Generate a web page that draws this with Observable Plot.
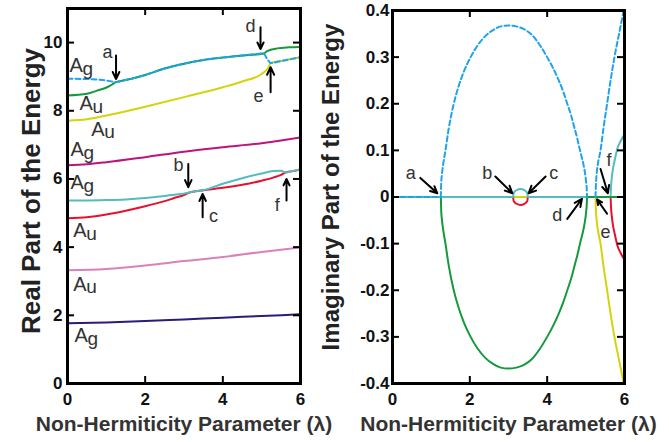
<!DOCTYPE html>
<html><head><meta charset="utf-8">
<script src="https://cdn.jsdelivr.net/npm/d3@7"></script>
<script src="https://cdn.jsdelivr.net/npm/@observablehq/plot@0.6"></script>
<style>
body{margin:0;background:#fff;}
#wrap{display:flex;width:669px;height:442px;overflow:hidden;background:#fff;}
#wrap svg{overflow:visible;}
</style></head><body><div id="wrap"></div>
<script>
// ---------- Left panel: real parts ----------
const lamPurple=[0,1,2,3,4,5,6];
const rePurple=[1.77,1.79,1.83,1.88,1.93,1.98,2.03];
const lamPink=[0,1,2,3,4,5,6];
const rePink=[3.32,3.36,3.46,3.59,3.71,3.86,3.99];
const lamMagenta=[0,0.5,1,2,3,4,5,5.5,6];
const reMagenta=[6.4,6.43,6.49,6.64,6.8,6.93,7.05,7.13,7.22];
const lamRed=[0,0.5,1,1.5,2,2.5,2.75,3,3.12,3.3,3.5,4,4.5,5,5.3,5.5,5.61,5.8,6];
const reRed=[4.85,4.88,4.96,5.07,5.2,5.35,5.44,5.53,5.59,5.64,5.67,5.74,5.83,5.95,6.04,6.12,6.19,6.23,6.28];
const lamCyan=[0,0.5,1,1.5,2,2.5,2.75,3,3.12,3.3,3.5,4,4.5,5,5.3,5.5,5.61,5.8,6];
const reCyan=[5.37,5.37,5.38,5.4,5.44,5.5,5.54,5.57,5.6,5.64,5.67,5.86,6.02,6.16,6.23,6.24,6.19,6.23,6.28];
const lamYellow=[0,0.5,1,2,3,4,4.5,5,5.1,5.18,5.23,5.5,6];
const reYellow=[7.71,7.75,7.86,8.12,8.4,8.69,8.86,9.08,9.17,9.28,9.4,9.46,9.57];
const lamGreen=[0,0.5,0.76,1.02,1.15,1.24,1.5,2,2.5,3,3.5,4,4.5,5.05,5.14,5.4,5.7,6];
const reGreen=[8.45,8.5,8.59,8.69,8.77,8.84,8.9,9.05,9.24,9.38,9.49,9.56,9.62,9.68,9.75,9.83,9.86,9.87];
const lamDash=[0,0.5,0.85,1.1,1.24,1.5,2,2.5,3,3.5,4,4.5,5.05,5.12,5.18,5.23,5.5,6];
const reDash=[8.94,8.93,8.91,8.87,8.84,8.9,9.05,9.24,9.38,9.49,9.56,9.62,9.68,9.56,9.46,9.4,9.46,9.57];

// ---------- Right panel: imaginary parts ----------
const lamZero=[0,6];
const imZero=[0,0];
const lamArc=[1.25,1.26,1.28,1.31,1.37,1.45,1.57,1.7,1.85,2.02,2.2,2.4,2.6,2.8,3.0,3.2,3.4,3.6,3.8,4.0,4.15,4.3,4.42,4.52,4.62,4.7,4.78,4.85,4.91,4.95,4.99,5.01,5.025,5.03];
const imArcUp=[0,0.03,0.05,0.07,0.1,0.145,0.195,0.235,0.27,0.3,0.325,0.345,0.358,0.366,0.368,0.366,0.36,0.348,0.327,0.3,0.277,0.25,0.225,0.2,0.175,0.15,0.125,0.1,0.08,0.065,0.045,0.03,0.015,0];
const imArcDown=[0,-0.03,-0.05,-0.07,-0.1,-0.145,-0.195,-0.235,-0.27,-0.3,-0.325,-0.345,-0.358,-0.366,-0.368,-0.366,-0.36,-0.348,-0.327,-0.3,-0.277,-0.25,-0.225,-0.2,-0.175,-0.15,-0.125,-0.1,-0.08,-0.065,-0.045,-0.03,-0.015,0];
const lamDashLead=[0,1.25];           // dashed branch lying on zero before point a
const imDashLead=[0,0];
const lamGreenTail=[5.03,6];          // green branch back on zero after point d
const imGreenTail=[0,0];
const lamDashIm2=[5.25,5.26,5.28,5.31,5.38,5.46,5.55,5.64,5.74,5.86,5.98];
const imDashIm2=[0,0.025,0.05,0.07,0.1,0.15,0.2,0.25,0.3,0.35,0.4];
const lamYellowIm=[0,5.25,5.26,5.28,5.31,5.38,5.46,5.55,5.64,5.74,5.86,5.98];
const imYellowIm=[0,0,-0.025,-0.05,-0.07,-0.1,-0.15,-0.2,-0.25,-0.3,-0.35,-0.4];
const lamRedIm=[0,3.12,3.13,3.16,3.21,3.31,3.41,3.46,3.49,3.5,5.64,5.65,5.67,5.7,5.75,5.82,5.9,6];
const imRedIm=[0,0,-0.0075,-0.0115,-0.0145,-0.017,-0.0145,-0.0115,-0.0075,0,0,-0.02,-0.04,-0.06,-0.08,-0.105,-0.12,-0.135];
const lamCyanIm=[0,3.12,3.13,3.16,3.21,3.31,3.41,3.46,3.49,3.5,5.64,5.65,5.67,5.7,5.75,5.82,5.9,6];
const imCyanIm=[0,0,0.0075,0.0115,0.0145,0.017,0.0145,0.0115,0.0075,0,0,0.02,0.04,0.06,0.08,0.105,0.12,0.135];

// ---------- Ticks and labels ----------
const xTicks=[0,2,4,6];
const yTicksRe=[0,2,4,6,8,10];
const yTicksIm=[-0.4,-0.3,-0.2,-0.1,0,0.1,0.2,0.3,0.4];
const xLabel="Non-Hermiticity Parameter (λ)";
const yLabelRe="Real Part of the Energy";
const yLabelIm="Imaginary Part of the Energy";

// symmetry labels (left panel)
const symMain=["A","A","A","A","A","A","A","A"];
const symSub=["g","u","u","g","g","u","u","g"];
const symLam=[0.05,0.31,0.61,0.08,0.08,0.15,0.15,0.18];
const symE=[9.33,8.2,7.46,6.86,5.88,4.49,2.91,1.41];

// point letters and arrows (left)
const ptL=["a","d","e","b","c","f"];
const ptLLam=[1.03,4.71,4.92,2.86,3.76,5.4];
const ptLE=[9.72,10.47,8.42,6.39,4.9,5.22];
const arLLam1=[1.25,4.97,5.23,3.11,3.48,5.64];
const arLE1=[9.62,10.45,8.54,6.44,4.88,5.37];
const arLLam2=[1.25,4.97,5.23,3.11,3.48,5.64];
const arLE2=[8.93,9.81,9.28,5.76,5.56,6.0];

// point letters and arrows (right)
const ptR=["a","b","c","d","e","f"];
const ptRLam=[0.47,2.45,4.17,4.26,5.51,5.6];
const ptRIm=[0.0515,0.05,0.05,-0.04,-0.0755,0.078];
const arRLam1=[0.72,2.66,3.96,4.52,5.55,5.38];
const arRIm1=[0.041,0.044,0.044,-0.047,-0.036,0.06];
const arRLam2=[1.16,3.1,3.52,4.9,5.29,5.57];
const arRIm2=[0.008,0.008,0.008,-0.004,-0.005,0.008];

const C={purple:"#2e1a78",pink:"#d982b8",magenta:"#bd1380",red:"#e8102e",cyan:"#52bcbe",yellow:"#d4d40c",green:"#149a3c",dash:"#1ea4ea"};
const FONT="'Liberation Sans', Arial, Helvetica, sans-serif";

const rows=(xs,ys)=>xs.map((x,i)=>({x,y:ys[i]}));
const ln=(xs,ys,color,dash)=>Plot.line(rows(xs,ys),{x:"x",y:"y",stroke:color,strokeWidth:2,curve:"monotone-x",clip:true,strokeDasharray:dash?"5,3":null});
const idx=a=>a.map((_,i)=>i);
const TICK=7; // tick length in px (inward)

function axes(xDom,yDom,yTicks,yFmt,yPad,fw,fh){
  const tx=TICK*(xDom[1]-xDom[0])/fw, ty=TICK*(yDom[1]-yDom[0])/fh;
  const tk={stroke:"black",strokeWidth:2};
  return [
    // inward tick marks on all four sides
    Plot.ruleX(xTicks,{x:d=>d,y1:yDom[0],y2:yDom[0]+ty,...tk}),
    Plot.ruleX(xTicks,{x:d=>d,y1:yDom[1]-ty,y2:yDom[1],...tk}),
    Plot.ruleY(yTicks,{y:d=>d,x1:xDom[0],x2:xDom[0]+tx,...tk}),
    Plot.ruleY(yTicks,{y:d=>d,x1:xDom[1]-tx,x2:xDom[1],...tk}),
    // tick labels
    Plot.axisX({anchor:"bottom",ticks:xTicks,tickSize:0,tickPadding:9,tickFormat:d=>String(d),fontSize:17,fontWeight:"bold",label:null,color:"#111"}),
    Plot.axisY({anchor:"left",ticks:yTicks,tickSize:0,tickPadding:yPad,tickFormat:yFmt,fontSize:17,fontWeight:"bold",label:null,color:"#111"}),
    Plot.frame({stroke:"black",strokeWidth:3})
  ];
}

const xDom=[0,6], yDomRe=[0,11], yDomIm=[-0.4,0.4];

const left=Plot.plot({
  width:320,height:442,marginLeft:67,marginRight:20,marginTop:8,marginBottom:59,
  style:{fontFamily:FONT,background:"transparent",overflow:"visible"},
  x:{domain:xDom},y:{domain:yDomRe},
  marks:[
    ln(lamPurple,rePurple,C.purple),
    ln(lamPink,rePink,C.pink),
    ln(lamMagenta,reMagenta,C.magenta),
    ln(lamYellow,reYellow,C.yellow),
    ln(lamRed,reRed,C.red),
    ln(lamCyan,reCyan,C.cyan),
    ln(lamGreen,reGreen,C.green),
    ln(lamDash,reDash,C.dash,true),
    ...axes(xDom,yDomRe,yTicksRe,d=>String(d),5,233,375),
    Plot.text(idx(symMain),{x:i=>symLam[i],y:i=>symE[i],text:i=>symMain[i],textAnchor:"start",lineAnchor:"middle",fontSize:20,fill:"#333"}),
    Plot.text(idx(symSub),{x:i=>symLam[i],y:i=>symE[i],text:i=>symSub[i],textAnchor:"start",lineAnchor:"middle",dx:13,dy:3,fontSize:19,fill:"#333"}),
    Plot.text(idx(ptL),{x:i=>ptLLam[i],y:i=>ptLE[i],text:i=>ptL[i],textAnchor:"middle",lineAnchor:"middle",fontSize:18,fill:"#333"}),
    Plot.arrow(idx(ptL),{x1:i=>arLLam1[i],y1:i=>arLE1[i],x2:i=>arLLam2[i],y2:i=>arLE2[i],stroke:"black",strokeWidth:2,headLength:9,headAngle:50}),
    Plot.text([yLabelRe],{frameAnchor:"left",dx:-36,dy:-5,rotate:-90,textAnchor:"middle",lineAnchor:"middle",fontSize:26,fontWeight:"bold",fill:"#222"}),
    Plot.text([xLabel],{frameAnchor:"bottom",dy:41,textAnchor:"middle",lineAnchor:"middle",fontSize:21,fontWeight:"bold",fill:"#333"})
  ]
});

const right=Plot.plot({
  width:349,height:442,marginLeft:72,marginRight:45,marginTop:10,marginBottom:59,
  style:{fontFamily:FONT,background:"transparent",overflow:"visible"},
  x:{domain:xDom},y:{domain:yDomIm},
  marks:[
    ln(lamZero,imZero,C.purple),
    ln(lamZero,imZero,C.pink),
    ln(lamZero,imZero,C.magenta),
    ln(lamYellowIm,imYellowIm,C.yellow),
    ln(lamRedIm,imRedIm,C.red),
    ln(lamCyanIm,imCyanIm,C.cyan),
    ln(lamArc,imArcDown,C.green),
    ln(lamGreenTail,imGreenTail,C.green),
    ln(lamDashLead,imDashLead,C.dash,true),
    ln(lamArc,imArcUp,C.dash,true),
    ln(lamDashIm2,imDashIm2,C.dash,true),
    ...axes(xDom,yDomIm,yTicksIm,d=>d===0?"0":(d<0?"-":"")+Math.abs(d).toFixed(1),3,232,373),
    Plot.text(idx(ptR),{x:i=>ptRLam[i],y:i=>ptRIm[i],text:i=>ptR[i],textAnchor:"middle",lineAnchor:"middle",fontSize:18,fill:"#333"}),
    Plot.arrow(idx(ptR),{x1:i=>arRLam1[i],y1:i=>arRIm1[i],x2:i=>arRLam2[i],y2:i=>arRIm2[i],stroke:"black",strokeWidth:2,headLength:9,headAngle:50}),
    Plot.text([yLabelIm],{frameAnchor:"left",dx:-61,dy:-10,rotate:-90,textAnchor:"middle",lineAnchor:"middle",fontSize:24,fontWeight:"bold",fill:"#222"}),
    Plot.text([xLabel],{frameAnchor:"bottom",dy:41,textAnchor:"middle",lineAnchor:"middle",fontSize:21,fontWeight:"bold",fill:"#333"})
  ]
});

const wrap=document.getElementById("wrap");
wrap.appendChild(left);
wrap.appendChild(right);
</script></body></html>
